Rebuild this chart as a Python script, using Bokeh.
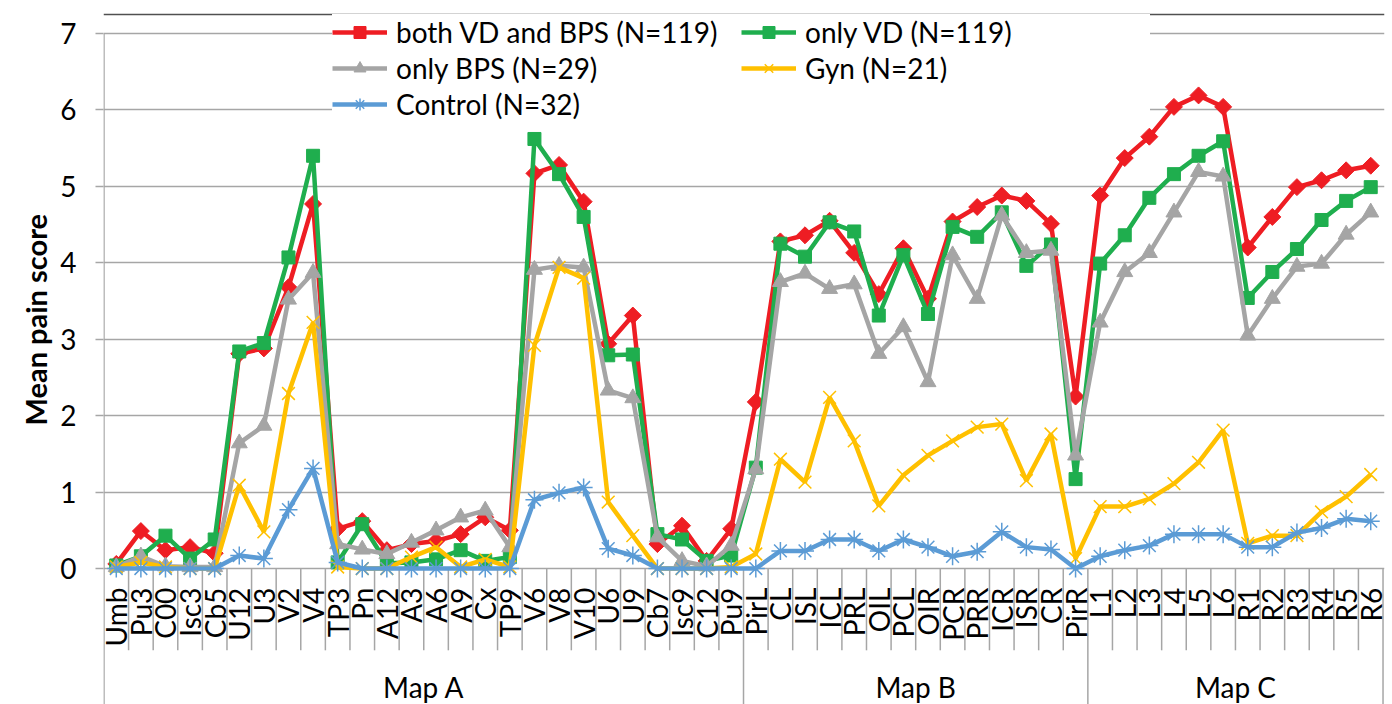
import numpy as np
from bokeh.plotting import figure
from bokeh.models import Range1d, FixedTicker, Legend, LegendItem, Title, Span
from bokeh.core.properties import value
from bokeh.embed import file_html
from bokeh.resources import INLINE

cats = ["Umb", "Pu3", "C00", "Isc3", "Cb5", "U12", "U3", "V2", "V4", "TP3", "Pn", "A12", "A3",
        "A6", "A9", "Cx", "TP9", "V6", "V8", "V10", "U6", "U9", "Cb7", "Isc9", "C12", "Pu9",
        "PirL", "CL", "ISL", "ICL", "PRL", "OIL", "PCL", "OIR", "PCR", "PRR", "ICR", "ISR", "CR", "PirR",
        "L1", "L2", "L3", "L4", "L5", "L6", "R1", "R2", "R3", "R4", "R5", "R6"]
groups = ["Map A", "Map B", "Map C"]
group_sizes = [26, 14, 12]

names = ["both VD and BPS (N=119)", "only VD (N=119)", "only BPS (N=29)", "Gyn (N=21)", "Control (N=32)"]

both = [0.06, 0.49, 0.24, 0.28, 0.20, 2.81, 2.88, 3.68, 4.77, 0.52, 0.62, 0.24, 0.32, 0.36, 0.45, 0.67, 0.50,
        5.17, 5.28, 4.80, 2.94, 3.31, 0.32, 0.56, 0.10, 0.52,
        2.18, 4.28, 4.36, 4.55, 4.13, 3.59, 4.19, 3.53, 4.54, 4.73, 4.88, 4.81, 4.51, 2.25,
        4.88, 5.37, 5.65, 6.04, 6.19, 6.04, 4.20, 4.60, 4.99, 5.08, 5.21, 5.27]
only_vd = [0.04, 0.16, 0.43, 0.13, 0.38, 2.84, 2.95, 4.07, 5.40, 0.08, 0.58, 0.07, 0.08, 0.12, 0.24, 0.10, 0.15,
           5.62, 5.16, 4.60, 2.79, 2.80, 0.45, 0.38, 0.10, 0.17,
           1.32, 4.25, 4.08, 4.53, 4.41, 3.31, 4.10, 3.33, 4.47, 4.34, 4.66, 3.96, 4.24, 1.17,
           3.99, 4.36, 4.85, 5.16, 5.40, 5.59, 3.54, 3.88, 4.18, 4.56, 4.81, 4.99]
only_bps = [0.02, 0.16, 0.03, 0.02, 0.02, 1.64, 1.87, 3.52, 3.87, 0.32, 0.25, 0.19, 0.34, 0.50, 0.67, 0.76, 0.28,
            3.91, 3.96, 3.94, 2.33, 2.23, 0.41, 0.10, 0.03, 0.30,
            1.30, 3.75, 3.86, 3.66, 3.72, 2.81, 3.16, 2.44, 4.10, 3.53, 4.62, 4.13, 4.16, 1.48,
            3.22, 3.88, 4.13, 4.66, 5.19, 5.13, 3.05, 3.53, 3.95, 3.99, 4.37, 4.66]
gyn = [0.02, 0.08, 0.02, 0.0, 0.0, 1.09, 0.48, 2.29, 3.22, 0.02, 0.0, 0.0, 0.15, 0.28, 0.02, 0.12, 0.02,
       2.92, 3.94, 3.80, 0.87, 0.43, 0.0, 0.0, 0.0, 0.02,
       0.19, 1.43, 1.13, 2.24, 1.67, 0.82, 1.22, 1.48, 1.67, 1.85, 1.89, 1.15, 1.76, 0.13,
       0.81, 0.81, 0.91, 1.11, 1.39, 1.81, 0.33, 0.43, 0.43, 0.74, 0.94, 1.23]
control = [0.0, 0.0, 0.0, 0.0, 0.0, 0.17, 0.13, 0.77, 1.31, 0.08, 0.0, 0.0, 0.0, 0.0, 0.0, 0.0, 0.0,
           0.90, 0.99, 1.06, 0.26, 0.17, 0.0, 0.0, 0.0, 0.0,
           0.0, 0.23, 0.23, 0.38, 0.38, 0.23, 0.38, 0.28, 0.16, 0.22, 0.48, 0.28, 0.25, 0.0,
           0.16, 0.24, 0.30, 0.45, 0.45, 0.45, 0.28, 0.28, 0.47, 0.53, 0.65, 0.62]
y_ticks = [0, 1, 2, 3, 4, 5, 6, 7]

FONT = "Lato"
GRID = "#a6a6a6"
n = len(cats)
xs = np.arange(n) + 0.5
YMIN = -1.779
YTOP = 7.301
YMAX = y_ticks[-1]
CAT_LABEL_Y = -0.25
GROUP_LABEL_Y = -1.55
SEP_BOTTOM = -1.07

p = figure(width=1392, height=704, output_backend="svg", toolbar_location=None,
           x_range=Range1d(-0.02, n + 0.06), y_range=Range1d(YMIN, YTOP),
           x_axis_location=None, min_border_left=103, min_border_right=8,
           min_border_top=10, min_border_bottom=0)
p.outline_line_color = None
p.background_fill_color = "white"
p.border_fill_color = "white"
p.xgrid.visible = False

yt = FixedTicker(ticks=y_ticks)
p.yaxis.ticker = yt
p.ygrid.ticker = yt
p.ygrid.grid_line_color = GRID
p.ygrid.grid_line_width = 1.5
ax = p.yaxis[0]
ax.axis_line_color = None
ax.major_tick_line_color = GRID
ax.major_tick_line_width = 1.5
ax.major_tick_out = 8
ax.major_tick_in = 0
ax.minor_tick_line_color = None
ax.major_label_standoff = 19
ax.major_label_text_font = FONT
ax.major_label_text_font_size = "28px"
ax.major_label_text_color = "black"

# vertical axis line (top value down through the label area)
p.segment(x0=[0], y0=[YMIN], x1=[0], y1=[YMAX], line_color=GRID, line_width=1.5)

# category separators below the axis
edges = np.cumsum(group_sizes)
edge_set = set(int(e) for e in edges)
inner = [b for b in range(1, n) if b not in edge_set]
p.segment(x0=inner, y0=[0] * len(inner), x1=inner, y1=[SEP_BOTTOM] * len(inner),
          line_color=GRID, line_width=1.5)
p.segment(x0=list(edges), y0=[0] * len(edges), x1=list(edges), y1=[YMIN] * len(edges),
          line_color=GRID, line_width=1.5)

# category labels
p.text(x=xs, y=[CAT_LABEL_Y] * n, text=cats, angle=np.pi / 2, text_align="right",
       text_baseline="middle", text_font=value(FONT), text_font_size="28px", text_color="black")

# group labels
starts = np.concatenate([[0], edges[:-1]])
centers = (starts + edges) / 2.0
p.text(x=centers, y=[GROUP_LABEL_Y] * len(groups), text=groups, text_align="center",
       text_baseline="middle", text_font=value(FONT), text_font_size="28px", text_color="black")

series = [
    (both, "#ee1d23", dict(marker="square", size=12, angle=np.pi / 4, line_width=1)),
    (only_vd, "#1fae4e", dict(marker="square", size=13, line_width=1)),
    (only_bps, "#a5a5a5", dict(marker="triangle", size=16, line_width=1)),
    (gyn, "#ffc000", dict(marker="x", size=18, line_width=1.5)),
    (control, "#5b9bd5", dict(marker="asterisk", size=18, line_width=1.5)),
]

items = []
for (vals, color, mk), name in zip(series, names):
    lr = p.line(xs, vals, line_color=color, line_width=4.5)
    sr = p.scatter(xs, vals, fill_color=color, line_color=color, **mk)
    items.append(LegendItem(label=name, renderers=[lr, sr]))

legend = Legend(items=items, orientation="horizontal", ncols=2, location=(229, 582),
                glyph_width=55, glyph_height=30, label_standoff=9, label_width=345, label_height=36,
                spacing=0, padding=8, margin=0, background_fill_color="white", background_fill_alpha=1,
                border_line_color=None, label_text_font=FONT, label_text_font_size="28px",
                label_text_color="black")
p.add_layout(legend, "center")

# chart-area border line at the very top
top_line = Span(location=YMAX + 0.249, dimension="width", line_color="#505050", line_width=1.5,
                level="overlay")
p.add_layout(top_line)

ytitle = Title(text="Mean pain score", align="left", offset=279, text_font=FONT,
               text_font_size="29px", text_font_style="bold", text_color="black")
p.add_layout(ytitle, "left")

open("out.html", "w").write(file_html(p, INLINE))
